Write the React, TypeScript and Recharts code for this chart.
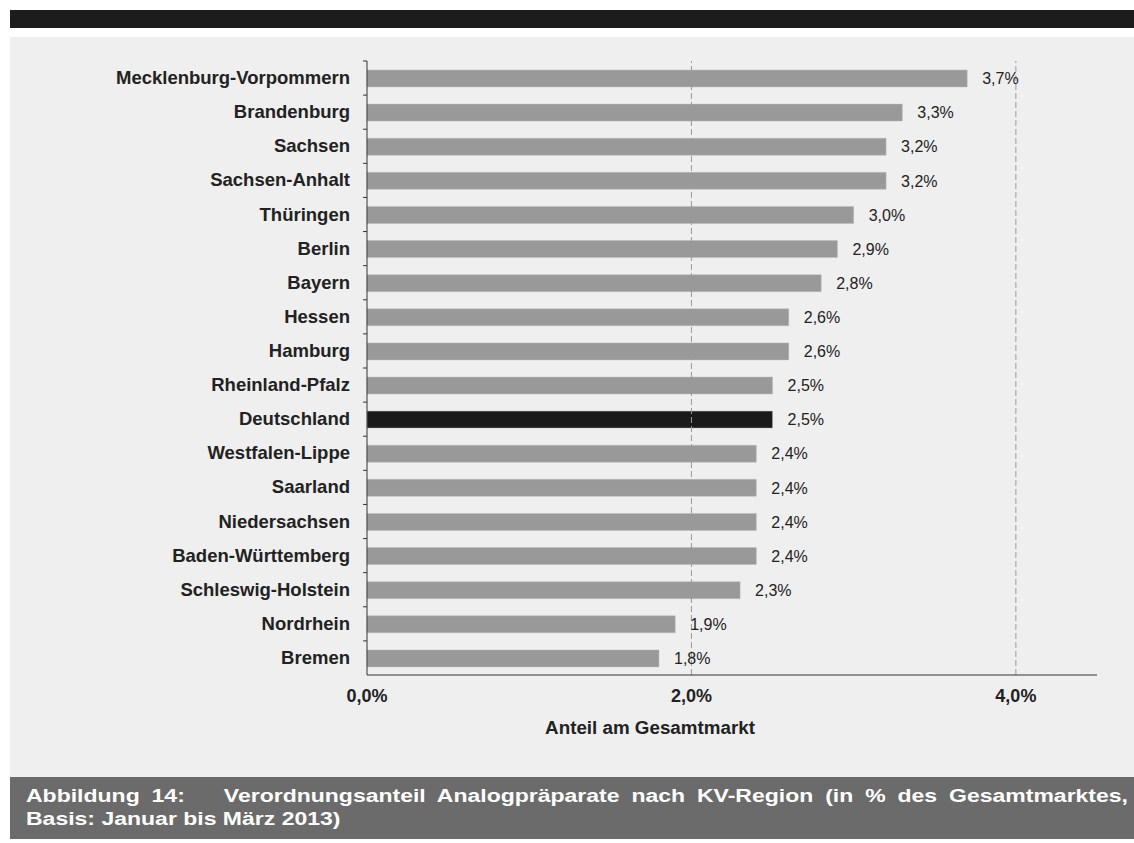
import React from 'react';
import { BarChart, Bar, XAxis, YAxis, ReferenceLine, Cell, LabelList } from 'recharts';

// KV regions, sorted by share (top to bottom)
const regions = [
  'Mecklenburg-Vorpommern',
  'Brandenburg',
  'Sachsen',
  'Sachsen-Anhalt',
  'Thüringen',
  'Berlin',
  'Bayern',
  'Hessen',
  'Hamburg',
  'Rheinland-Pfalz',
  'Deutschland',
  'Westfalen-Lippe',
  'Saarland',
  'Niedersachsen',
  'Baden-Württemberg',
  'Schleswig-Holstein',
  'Nordrhein',
  'Bremen',
];

// share of total market in percent
const shares = [3.7, 3.3, 3.2, 3.2, 3.0, 2.9, 2.8, 2.6, 2.6, 2.5, 2.5, 2.4, 2.4, 2.4, 2.4, 2.3, 1.9, 1.8];

const xTicks = [0, 2, 4];
const xMax = 4.5;
const highlight = 'Deutschland';

const data = regions.map((name, i) => ({ name, value: shares[i] }));

const FONT = '"Liberation Sans", Arial, sans-serif';
const CHART_W = 1124;
const CHART_H = 704;
const TOP = 24;
const Y_AXIS_W = 357;
const X_AXIS_H = 66;
const PLOT_H = CHART_H - TOP - X_AXIS_H;
const BAND = PLOT_H / regions.length;

const pct = (v: number) => `${v.toFixed(1).replace('.', ',')}%`;

const RegionTick = (props: any) => {
  const { x, y, payload } = props;
  const axisX = x + 17;
  return (
    <g>
      <line x1={axisX - 4} x2={axisX} y1={y - BAND / 2} y2={y - BAND / 2} stroke="#333" strokeWidth={1} />
      <text x={x} y={y} dy={6} textAnchor="end" fontSize={18.5} fontWeight="bold" fill="#222" fontFamily={FONT}>
        {payload.value}
      </text>
    </g>
  );
};

export default function App() {
  return (
    <div style={{ position: 'relative', width: 1134, height: 843, background: '#fff', fontFamily: FONT }}>
      <style>{'body{margin:0}'}</style>
      <div style={{ position: 'absolute', left: 10, top: 10, right: 0, height: 18, background: '#1c1c1c' }} />
      <div style={{ position: 'absolute', left: 10, top: 37, right: 0, height: 740, background: '#efefef' }}>
        <BarChart
          width={CHART_W}
          height={CHART_H}
          data={data}
          layout="vertical"
          margin={{ top: TOP, right: 37, bottom: 0, left: 0 }}
          barSize={17}
        >
          {/* dashed gridlines at the non-zero ticks */}
          {xTicks
            .filter((t) => t > 0)
            .map((t) => (
              <ReferenceLine key={t} x={t} stroke="#9a9a9a" strokeDasharray="6 3" />
            ))}
          <XAxis
            type="number"
            domain={[0, xMax]}
            ticks={xTicks}
            tickFormatter={pct}
            height={X_AXIS_H}
            stroke="#333"
            tickLine={false}
            tickSize={0}
            tickMargin={14}
            tick={{ fontSize: 18, fontWeight: 'bold', fill: '#222', fontFamily: FONT }}
            label={{
              value: 'Anteil am Gesamtmarkt',
              position: 'insideBottom',
              offset: 7,
              dx: -82,
              fontSize: 18.8,
              fontWeight: 'bold',
              fill: '#222',
              fontFamily: FONT,
            }}
          />
          <YAxis
            type="category"
            dataKey="name"
            width={Y_AXIS_W}
            stroke="#333"
            tickLine={false}
            tickSize={0}
            tickMargin={17}
            interval={0}
            tick={<RegionTick />}
          />
          <Bar dataKey="value" isAnimationActive={false} stroke="#bdbdbd" strokeWidth={0.5}>
            {data.map((d) => (
              <Cell key={d.name} fill={d.name === highlight ? '#1a1a1a' : '#999999'} />
            ))}
            <LabelList
              dataKey="value"
              position="right"
              offset={15}
              formatter={(v: any) => pct(Number(v))}
              style={{ fontSize: 16, fill: '#222', fontFamily: FONT }}
            />
          </Bar>
        </BarChart>
      </div>
      <div style={{ position: 'absolute', left: 10, top: 777, right: 0, height: 62, background: '#6b6b6b' }} />
      <div
        style={{
          position: 'absolute',
          left: 26,
          top: 784,
          width: 1102,
          color: '#fff',
          fontWeight: 'bold',
          fontSize: 23,
          lineHeight: '28px',
          transform: 'scaleY(0.82)',
          transformOrigin: 'top left',
        }}
      >
        <div style={{ textAlign: 'justify', textAlignLast: 'justify', whiteSpace: 'nowrap' }}>
          Abbildung 14:<span style={{ display: 'inline-block', width: 39 }} />Verordnungsanteil Analogpräparate nach KV-Region (in % des Gesamtmarktes,
        </div>
        <div>Basis: Januar bis März 2013)</div>
      </div>
    </div>
  );
}
